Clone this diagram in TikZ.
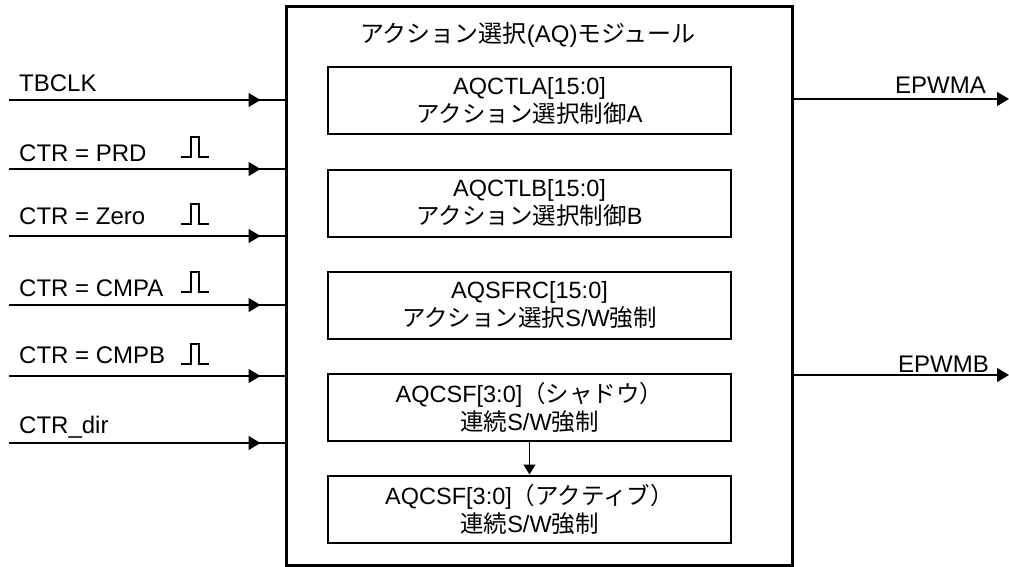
\documentclass[tikz,border=0pt]{standalone}
\usepackage{fontspec}
\setmainfont{Liberation Sans}
\newfontfamily\jp{Noto Sans CJK JP}
\usetikzlibrary{arrows.meta,calc}
\begin{document}
\begin{tikzpicture}[x=1pt,y=-1pt,
  lbl/.style={inner sep=0pt, font=\fontsize{24}{28}\selectfont},
  reg/.style={draw, line width=2pt, minimum width=403pt, minimum height=67pt, align=center, inner sep=0pt, font=\fontsize{23.5}{28}\selectfont},
  sig/.style={line width=1.3pt},
  tip/.style={-{Triangle[length=12pt,width=14pt]}},
  pulse/.style={line width=1.2pt}]
\useasboundingbox (0,0) rectangle (1009,567);
% main module
\node[draw, line width=3pt, minimum width=506pt, minimum height=558pt, inner sep=0pt] (aq) at (539,286) {};
\node[lbl, anchor=base] (title) at (528,43) {{\jp アクション選択}(AQ){\jp モジュール}};
% registers
\node[reg] (r1) at (529.5,100.5) {AQCTLA[15:0]\\{\jp アクション選択制御}A};
\node[reg] (r2) at (529.5,203) {AQCTLB[15:0]\\{\jp アクション選択制御}B};
\node[reg] (r3) at (529.5,305) {AQSFRC[15:0]\\{\jp アクション選択}S/W{\jp 強制}};
\node[reg] (r4) at (529.5,407.5) {AQCSF[3:0]{\jp （シャドウ）}\\{\jp 連続}S/W{\jp 強制}};
\node[reg] (r5) at (529.5,509) {AQCSF[3:0]{\jp （アクティブ）}\\{\jp 連続}S/W{\jp 強制}};
\draw[sig,-{Triangle[length=10pt,width=12pt]}] (r4.south) -- (r5.north);
% inputs
\coordinate (i1) at (9,100);
\coordinate (i2) at (9,169);
\coordinate (i3) at (9,236);
\coordinate (i4) at (9,305);
\coordinate (i5) at (9,376);
\coordinate (i6) at (9,443);
\foreach \i in {1,...,6}{
  \draw[sig] (i\i) -- (aq.west |- i\i);
  \draw[sig,tip] (i\i) -- ($(aq.west |- i\i)+(-24,0)$);
}
\node[lbl, anchor=base west] (l1) at (19,92) {TBCLK};
\node[lbl, anchor=base west] (l2) at (19,161) {CTR = PRD};
\node[lbl, anchor=base west] (l3) at (19,224) {CTR = Zero};
\node[lbl, anchor=base west] (l4) at (19,296) {CTR = CMPA};
\node[lbl, anchor=base west] (l5) at (19,363) {CTR = CMPB};
\node[lbl, anchor=base west] (l6) at (19,433) {CTR\_dir};
% pulses
\foreach \t/\b in {137/157,204/224,272/292,344/364}{
  \draw[pulse] (181,\b) -- (191,\b) -- (191,\t) -- (199,\t) -- (199,\b) -- (209,\b);
}
% outputs
\coordinate (o1) at (1009,99);
\coordinate (o2) at (1009,375);
\draw[sig,tip] (aq.east |- o1) -- (o1);
\draw[sig,tip] (aq.east |- o2) -- (o2);
\node[lbl, anchor=base east] (ea) at (986,94) {EPWMA};
\node[lbl, anchor=base east] (eb) at (989,372) {EPWMB};
\end{tikzpicture}
\end{document}
